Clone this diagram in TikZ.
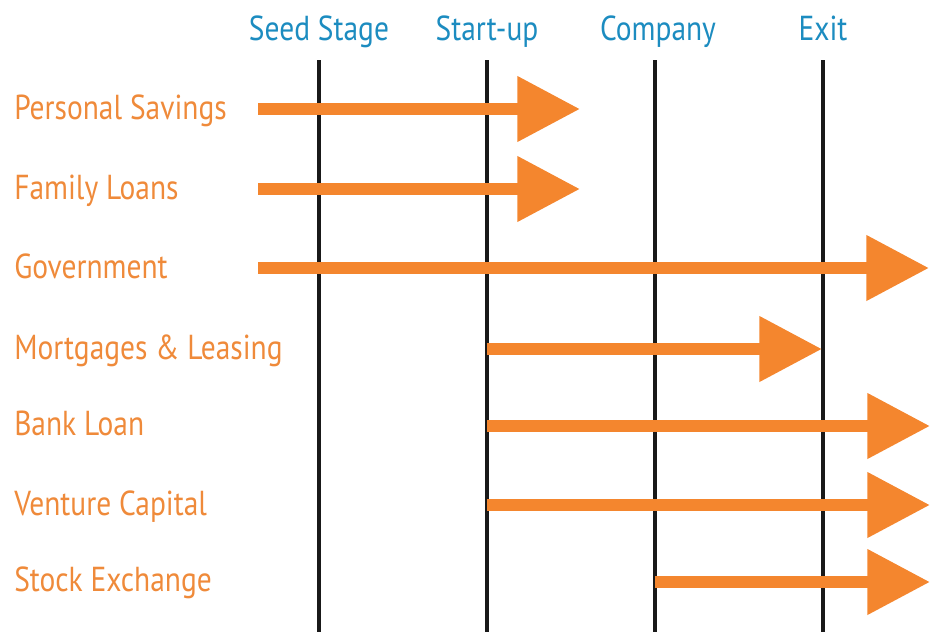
\documentclass[tikz,border=0pt]{standalone}
\usepackage{fontspec}
\setmainfont[FakeStretch=0.85]{PT Sans}
\usetikzlibrary{arrows.meta}

\definecolor{stageblue}{RGB}{28,140,192}
\definecolor{fundorange}{RGB}{244,134,46}
\definecolor{labelorange}{RGB}{239,138,58}

\tikzset{
  stage/.style={text=stageblue, anchor=base, inner sep=0pt, font=\fontsize{26}{30}\selectfont},
  source/.style={text=labelorange, anchor=base west, inner sep=0pt, font=\fontsize{26}{30}\selectfont},
  stageline/.style={line width=3pt, color=black!90},
  flow/.style={draw=fundorange, line width=9pt, -{Triangle[length=47pt,width=47pt]}}
}

\begin{document}
\begin{tikzpicture}[x=0.75pt,y=0.75pt,yscale=-1,xscale=1]
\useasboundingbox (0,0) rectangle (930,632);

% Stage headings
\node [stage] (seed) at (319,40) {Seed Stage};
\node [stage] (startup) at (487,40) {Start-up};
\node [stage] (company) at (658,40) {Company};
\node [stage] (exit) at (823,40) {Exit};

% Stage lines
\coordinate (seedtop) at (319,60);   \coordinate (seedbot) at (319,632);
\coordinate (startuptop) at (487,60); \coordinate (startupbot) at (487,632);
\coordinate (companytop) at (655,60); \coordinate (companybot) at (655,632);
\coordinate (exittop) at (823,60);   \coordinate (exitbot) at (823,632);
\draw [stageline] (seedtop) -- (seedbot);
\draw [stageline] (startuptop) -- (startupbot);
\draw [stageline] (companytop) -- (companybot);
\draw [stageline] (exittop) -- (exitbot);

% Funding sources
\node [source] (savings) at (14,119) {Personal Savings};
\node [source] (family) at (14,199) {Family Loans};
\node [source] (government) at (14,278) {Government};
\node [source] (mortgages) at (14,359) {Mortgages \& Leasing};
\node [source] (bank) at (14,435) {Bank Loan};
\node [source] (venture) at (14,515) {Venture Capital};
\node [source] (stock) at (14,591) {Stock Exchange};

% Arrow ends
\coordinate (savingsfrom) at (258,109);   \coordinate (savingsto) at (580,109);
\coordinate (familyfrom) at (258,189);    \coordinate (familyto) at (580,189);
\coordinate (governmentfrom) at (258,268); \coordinate (governmentto) at (929,268);
\coordinate (mortgagesfrom) at (487,349); \coordinate (mortgagesto) at (822,349);
\coordinate (bankfrom) at (487,426);      \coordinate (bankto) at (930,426);
\coordinate (venturefrom) at (487,505);   \coordinate (ventureto) at (930,505);
\coordinate (stockfrom) at (655,582);     \coordinate (stockto) at (930,582);

% Arrows
\draw [flow] (savingsfrom) -- (savingsto);
\draw [flow] (familyfrom) -- (familyto);
\draw [flow] (governmentfrom) -- (governmentto);
\draw [flow] (mortgagesfrom) -- (mortgagesto);
\draw [flow] (bankfrom) -- (bankto);
\draw [flow] (venturefrom) -- (ventureto);
\draw [flow] (stockfrom) -- (stockto);

\end{tikzpicture}
\end{document}
